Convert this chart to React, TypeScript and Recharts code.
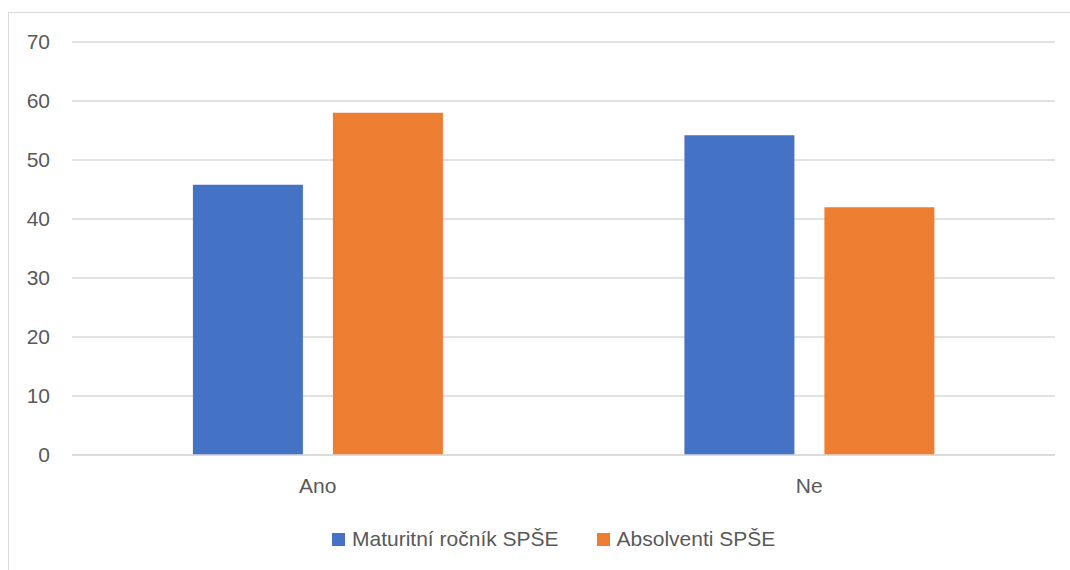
import React from 'react';
import {BarChart, Bar, XAxis, YAxis, CartesianGrid, Legend} from 'recharts';

const categories = ['Ano', 'Ne'];
const maturitni = [45.8, 54.2];
const absolventi = [58, 42];
const yTicks = [0, 10, 20, 30, 40, 50, 60, 70];

const SERIES = [
    {key: 'maturitni', name: 'Maturitní ročník SPŠE', color: '#4472C4'},
    {key: 'absolventi', name: 'Absolventi SPŠE', color: '#ED7D31'},
];

const data = categories.map((c, i) => ({
    category: c,
    maturitni: maturitni[i],
    absolventi: absolventi[i],
}));

const FONT = '"Liberation Sans", Arial, sans-serif';
const TEXT = '#595959';

const LegendContent = () => (
    <div style={{display: 'flex', alignItems: 'center', paddingLeft: 332, fontFamily: FONT, fontSize: 21, color: TEXT}}>
        {SERIES.map((s, i) => (
            <div key={s.key} style={{display: 'flex', alignItems: 'center', marginRight: i === 0 ? 38 : 0}}>
                <span style={{display: 'inline-block', width: 13, height: 13, background: s.color, marginRight: 7}} />
                <span>{s.name}</span>
            </div>
        ))}
    </div>
);

export default function App() {
    return (
        <div style={{position: 'absolute', left: 0, top: 0, width: 1070, height: 570, background: '#fff', overflow: 'hidden'}}>
            <div style={{position: 'absolute', left: 8, top: 12, width: 1200, height: 700, borderLeft: '1px solid #d9d9d9', borderTop: '1px solid #d9d9d9'}} />
            <BarChart
                width={1070}
                height={570}
                data={data}
                margin={{top: 42, right: 15, bottom: 85, left: 0}}
                barGap={30}
                barCategoryGap="24.6%"
            >
                <CartesianGrid vertical={false} stroke="#d9d9d9" strokeWidth={1.3} />
                <XAxis
                    dataKey="category"
                    height={30}
                    tickLine={false}
                    axisLine={{stroke: '#d9d9d9', strokeWidth: 1.3}}
                    tickMargin={17}
                    tick={{fill: TEXT, fontSize: 21, fontFamily: FONT}}
                />
                <YAxis
                    width={72}
                    domain={[0, 70]}
                    ticks={yTicks}
                    axisLine={false}
                    tickLine={false}
                    tickMargin={16}
                    tick={{fill: TEXT, fontSize: 21, fontFamily: FONT}}
                />
                <Legend
                    verticalAlign="middle"
                    layout="horizontal"
                    wrapperStyle={{top: 527, left: 0, width: 1070, height: 0, overflow: 'visible'}}
                    content={<LegendContent />}
                />
                {SERIES.map(s => (
                    <Bar key={s.key} dataKey={s.key} name={s.name} fill={s.color} isAnimationActive={false} />
                ))}
            </BarChart>
        </div>
    );
}
